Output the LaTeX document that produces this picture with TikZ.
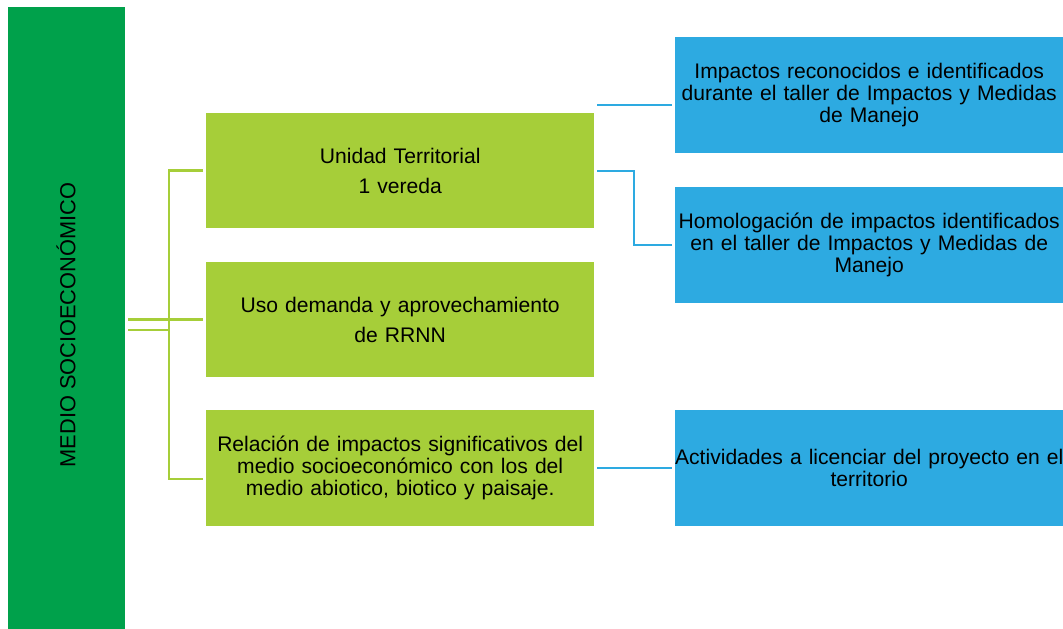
\documentclass[tikz,border=0pt]{standalone}
\usepackage{fontspec}
\setmainfont{Liberation Sans}
\definecolor{darkgreen}{HTML}{00A14B}
\definecolor{lightgreen}{HTML}{A6CE39}
\definecolor{skyblue}{HTML}{2DAAE1}
\tikzset{
  gbox/.style={rectangle, fill=lightgreen, draw=none, anchor=north west, inner sep=0pt,
    minimum width=388pt, minimum height=115pt, text width=386pt, align=center,
    font=\fontsize{21.1}{22}\selectfont},
  bbox/.style={rectangle, fill=skyblue, draw=none, anchor=north west, inner sep=0pt,
    minimum width=388pt, minimum height=116pt, text width=388pt, align=center,
    font=\fontsize{21.1}{22}\selectfont},
  gline/.style={draw=lightgreen, line width=2.7pt},
  bline/.style={draw=skyblue, line width=2.4pt},
}
\newcommand{\fitline}[1]{\makebox[\linewidth]{#1}}
\begin{document}
\begin{tikzpicture}[x=1pt,y=-1pt]
\useasboundingbox (0,0) rectangle (1063,629);
% left bar
\node[rectangle, fill=darkgreen, anchor=north west, inner sep=0pt,
  minimum width=117pt, minimum height=622pt] (bar) at (8,7) {};
\node[rotate=90, font=\fontsize{21.8}{22}\selectfont] (bartext) at (66,325) {MEDIO SOCIOECONÓMICO};
% green boxes
\node[gbox] (g1) at (206,113) {Unidad Territorial\\[8pt]1 vereda};
\node[gbox] (g2) at (206,262) {Uso demanda y aprovechamiento\\[8pt]de RRNN};
\node[gbox, minimum height=116pt] (g3) at (206,410) {\fitline{Relación de impactos significativos del}\\medio socioeconómico con los del\\medio abiotico, biotico y paisaje.};
% blue boxes
\node[bbox] (b1) at (675,37) {Impactos reconocidos e identificados\\\fitline{durante el taller de Impactos y Medidas}\\de Manejo};
\node[bbox] (b2) at (675,187) {\fitline{Homologación de impactos identificados}\\\fitline{en el taller de Impactos y Medidas de}\\Manejo};
\node[bbox] (b3) at (675,410) {\fitline{Actividades a licenciar del proyecto en el}\\territorio};
% left connectors
\coordinate (spine) at (169,0);
\coordinate (low) at (128,330);
\coordinate (bot) at (169,479);
\draw[gline] ([xshift=3pt]bar.east |- g2.west) -- ([xshift=-3pt]g2.west);
\draw[gline] (low) -- (spine |- low);
\draw[gline] ([xshift=-3pt]g1.west) -- (spine |- g1.west) -- (bot) -- ([xshift=-3pt]g3.west |- bot);
% right connectors
\coordinate (r1a) at (597,105);
\coordinate (r1b) at (672,105);
\coordinate (elbow) at (634,0);
\draw[bline] (r1a) -- (r1b);
\draw[bline] ([xshift=3pt]g1.east) -- (elbow |- g1.east) -- (elbow |- b2.west) -- ([xshift=-3pt]b2.west);
\draw[bline] ([xshift=3pt]g3.east) -- ([xshift=-3pt]b3.west);
\end{tikzpicture}
\end{document}
